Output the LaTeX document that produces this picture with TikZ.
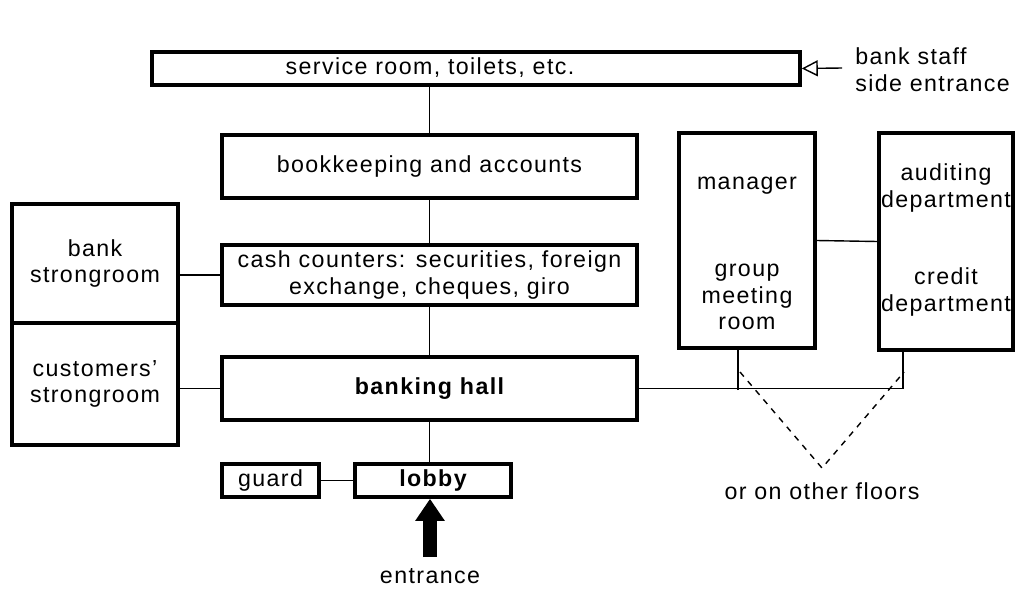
\documentclass[tikz,border=0pt]{standalone}
\usepackage{fontspec}
\setmainfont{Liberation Sans}[LetterSpace=6]
\usepackage{tikz}
\usetikzlibrary{positioning,arrows.meta}
\newcommand{\planfont}{\fontsize{16.5}{19}\selectfont}

\begin{document}
\begin{tikzpicture}[x=0.025cm,y=-0.025cm,
  room/.style={draw,line width=2.4pt,inner sep=0pt},
  label/.style={font=\planfont,align=center,inner sep=0pt},
  link/.style={line width=1pt},
  bigarrow/.style={line width=3.3mm,-{Triangle[length=5.5mm,width=7mm]}}]
  \useasboundingbox (0,0) rectangle (1018,592);
  % rooms
  \node[room,minimum width=16.2cm,minimum height=0.83cm] (service) at (476,68.5) {};
  \node[label] (servicetxt) at (430,68) {service room, toilets, etc.};
  \node[room,label,minimum width=10.38cm,minimum height=1.58cm] (book) at (429.5,166.5) {bookkeeping and accounts};
  \node[room,label,minimum width=10.38cm,minimum height=1.5cm] (cash) at (429.5,275) {cash counters: securities, foreign\\exchange, cheques, giro};
  \node[room,label,minimum width=10.38cm,minimum height=1.58cm] (hall) at (429.5,388.5) {\bfseries banking hall};
  \node[room,label,minimum width=3.9cm,minimum height=0.83cm] (lobby) at (433,480.5) {\bfseries lobby};
  \node[room,label,minimum width=2.42cm,minimum height=0.83cm] (guard) at (270.5,480.5) {guard};
  \node[room,label,minimum width=4.15cm,minimum height=2.98cm] (bankstr) at (95,263.5) {bank\\strongroom};
  \node[room,label,minimum width=4.15cm,minimum height=3.05cm] (custstr) at (95,384) {customers'\\strongroom};
  \node[room,minimum width=3.4cm,minimum height=5.38cm] (manager) at (747,240.5) {};
  \node[room,minimum width=3.35cm,minimum height=5.42cm] (audit) at (946,241.5) {};
  \node[label] (managertxt) at (747,186) {manager};
  \node[label] (grouptxt) at (747,297) {group\\meeting\\room};
  \node[label] (audittxt) at (946,188) {auditing\\department};
  \node[label] (credittxt) at (946,292) {credit\\department};
  % entrances
  \coordinate (sidein) at (842,68);
  \node[label,anchor=west,align=left] (sidetxt) at (855,70) {bank staff\\side entrance};
  \draw[link,-{Triangle[open,length=4mm,width=4mm]}] (sidein) -- (service.east);
  \coordinate (mainin) at (430,557);
  \draw[bigarrow] (mainin) -- (mainin |- lobby.south);
  \node[label] (maintxt) at (430,576) {entrance};
  % links
  \draw[link] (book.north) -- (book.north |- service.south);
  \draw[link] (book.south) -- (cash.north);
  \draw[link] (cash.south) -- (hall.north);
  \draw[link] (hall.south) -- (hall.south |- lobby.north);
  \draw[link] (guard.east) -- (lobby.west);
  \draw[link] (cash.west) -- (cash.west -| bankstr.east);
  \draw[link] (hall.west) -- (hall.west -| custstr.east);
  \draw[link] (manager.east) -- (audit.west);
  \coordinate (mgrdrop) at (738,390);
  \coordinate (auddrop) at (903,390);
  \draw[link] (hall.east) -- (hall.east -| auddrop) -- (auddrop |- audit.south);
  \draw[link] (mgrdrop) -- (mgrdrop |- manager.south);
  % other floors
  \coordinate (floors) at (822,468);
  \draw[link,dash pattern=on 1.5mm off 1.5mm] (740,372) -- (floors) -- (904,372);
  \node[label] (floorstxt) at (822,491) {or on other floors};
\end{tikzpicture}
\end{document}
